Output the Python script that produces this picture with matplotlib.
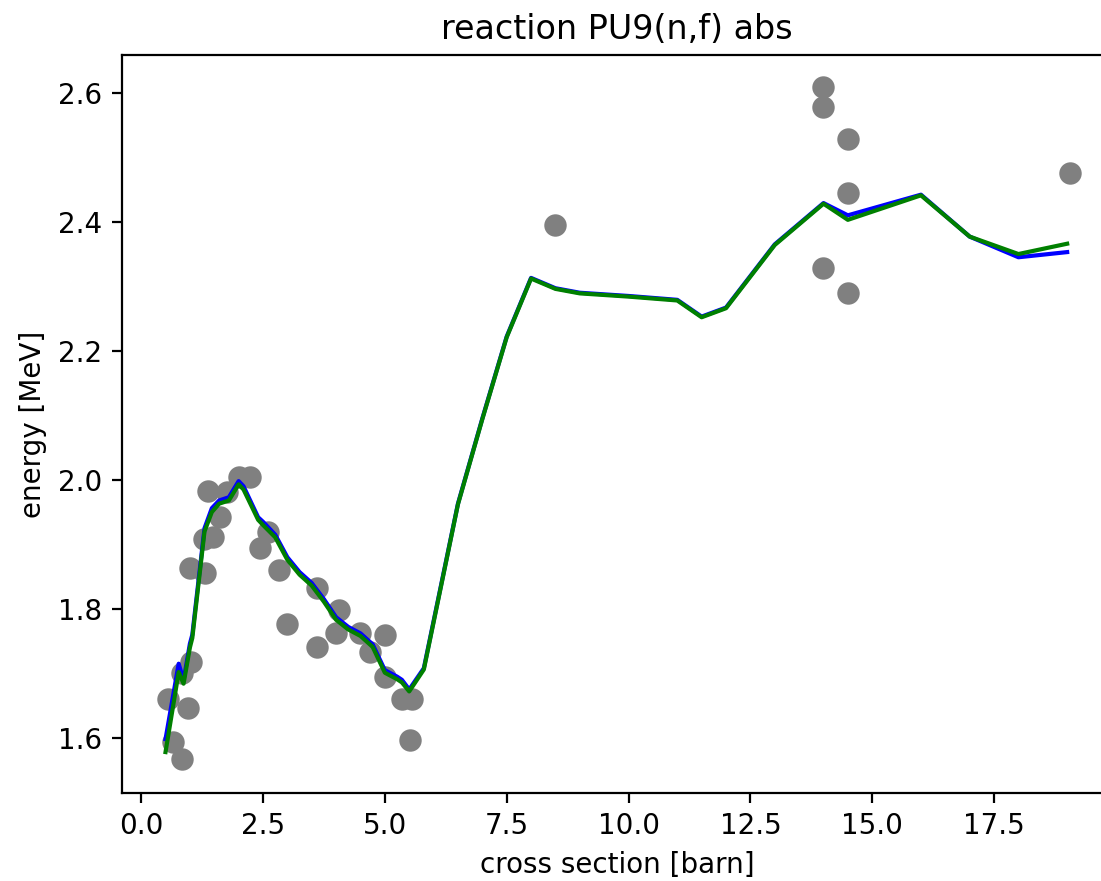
import matplotlib
matplotlib.use('Agg')
import matplotlib.pyplot as plt

# measured points (grey dots)
exp_x = [0.56, 0.84, 1.02, 0.97, 0.66, 0.83,
         1.0, 1.31, 1.29, 1.47, 1.38, 1.62, 1.76, 2.0, 2.24,
         2.44, 2.61, 2.83, 3.0, 3.6, 3.6, 4.05, 4.0, 4.5, 4.7,
         5.0, 5.0, 5.35, 5.55, 5.52,
         8.5, 14.0, 14.0, 14.5, 14.5, 14.0, 14.5, 19.05]
exp_y = [1.661, 1.700, 1.718, 1.646, 1.593, 1.568,
         1.863, 1.855, 1.909, 1.912, 1.983, 1.943, 1.981, 2.005, 2.005,
         1.894, 1.919, 1.860, 1.777, 1.832, 1.741, 1.798, 1.762, 1.762, 1.733,
         1.759, 1.695, 1.661, 1.661, 1.596,
         2.395, 2.609, 2.578, 2.528, 2.445, 2.329, 2.290, 2.475]

# evaluated curves
calc_x = [0.5, 0.77, 0.87, 1.0, 1.05, 1.3, 1.45, 1.6, 1.8, 2.0, 2.1,
          2.4, 2.5, 2.75, 3.0, 3.25, 3.5, 3.75, 4.0, 4.25, 4.5, 4.75,
          5.0, 5.25, 5.35, 5.5, 5.8, 6.5, 7.0, 7.5, 8.0, 8.5, 9.0,
          10.0, 11.0, 11.5, 12.0, 13.0, 14.0, 14.5, 16.0, 17.0, 18.0, 19.0]
blue_y = [1.598, 1.715, 1.689, 1.746, 1.760, 1.925, 1.956, 1.968, 1.973, 1.998, 1.990,
          1.942, 1.935, 1.915, 1.880, 1.857, 1.840, 1.815, 1.787, 1.772, 1.762, 1.745,
          1.705, 1.695, 1.690, 1.675, 1.708, 1.963, 2.095, 2.222, 2.313, 2.297, 2.290,
          2.285, 2.279, 2.253, 2.267, 2.365, 2.429, 2.410, 2.442, 2.377, 2.345, 2.353]
green_y = [1.578, 1.702, 1.684, 1.740, 1.755, 1.920, 1.950, 1.963, 1.968, 1.993, 1.985,
           1.938, 1.930, 1.911, 1.876, 1.853, 1.836, 1.811, 1.783, 1.768, 1.758, 1.741,
           1.701, 1.691, 1.686, 1.672, 1.706, 1.962, 2.094, 2.221, 2.312, 2.296, 2.289,
           2.284, 2.278, 2.252, 2.266, 2.364, 2.428, 2.403, 2.441, 2.377, 2.350, 2.366]

fig = plt.figure(figsize=(1101 / 200, 881 / 200), dpi=200)
ax = fig.add_axes([0.1105, 0.1002, 0.8995, 0.837])

ax.scatter(exp_x, exp_y, s=50, color='grey', zorder=1)
ax.plot(calc_x, blue_y, color='blue', zorder=2)
ax.plot(calc_x, green_y, color='green', zorder=3)

ax.set_xlim(-0.4, 19.92)
ax.set_ylim(1.515, 2.658)
ax.set_xlabel('cross section [barn]')
ax.set_ylabel('energy [MeV]')
ax.set_title('reaction PU9(n,f) abs')

fig.savefig('out.png', dpi=200)
